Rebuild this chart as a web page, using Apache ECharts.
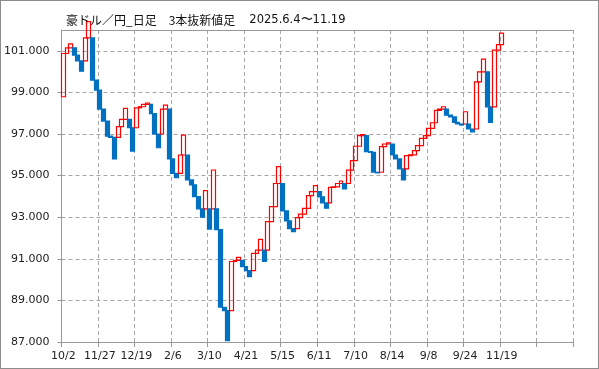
<!DOCTYPE html>
<html><head><meta charset="utf-8">
<script src="https://cdn.jsdelivr.net/npm/echarts@6/dist/echarts.min.js"></script>
<style>
html,body{margin:0;padding:0;background:#fff}
#c{width:599px;height:369px;box-sizing:border-box;border:1px solid #8c8c8c}
</style>
</head><body><div id="c"></div><script>
// ---- data ----
const titleMain = '豪ドル／円_日足　3本抜新値足';
const titleRange = '2025.6.4〜11.19';
const firstOpen = 98.79;
const closes = [
 100.87,101.14,101.33,100.79,100.52,100.02,101.62,102.40,99.59,99.11,
 98.20,97.62,96.90,96.84,95.80,97.35,97.70,98.23,97.30,96.18,
 98.26,98.31,98.42,98.49,97.98,97.00,96.34,98.20,98.39,95.80,
 95.11,94.90,95.99,96.95,94.79,94.55,93.99,93.40,93.00,94.28,
 92.43,95.27,92.40,88.67,88.51,87.07,90.87,90.92,91.07,90.62,
 90.43,90.14,91.26,91.42,91.93,90.87,92.79,93.51,94.62,95.43,
 93.30,92.82,92.45,92.31,92.98,93.15,93.42,94.04,94.23,94.52,
 93.98,93.69,93.43,94.43,94.46,94.62,94.74,94.36,95.26,95.72,
 96.41,96.92,96.97,96.15,96.12,95.16,95.13,96.39,96.52,96.58,
 95.99,95.80,95.32,94.79,95.96,96.00,96.20,96.44,96.79,96.92,
 97.27,97.54,98.14,98.20,98.31,97.91,97.82,97.56,97.48,97.43,
 98.07,97.24,97.10,99.51,99.99,100.60,98.30,97.56,101.03,101.30,
 101.85
];
const xTickLabels = ['10/2','11/27','12/19','2/6','3/10','4/21','5/15','6/11','7/10','8/14','9/8','9/24','11/19'];
const categoryCount = 140;
const labelEvery = 10;
const yMin = 87, yMax = 102, yStep = 2;

// ---- three-line-break bricks: new line continues from prior close, reversal from prior open ----
const bricks = [];
let prevOpen = firstOpen, prevClose = null, prevDir = 1;
closes.forEach((c, i) => {
  let open;
  if (i === 0) { open = firstOpen; prevDir = c > open ? 1 : -1; }
  else {
    const dir = c > prevClose ? 1 : -1;
    open = (dir === prevDir) ? prevClose : prevOpen;
    prevDir = dir;
  }
  bricks.push([open, c, Math.min(open, c), Math.max(open, c)]);
  prevOpen = open; prevClose = c;
});
const cats = Array.from({length: categoryCount}, (_, i) => String(i));

const gridColor = '#a6a6a6';
const chart = echarts.init(document.getElementById('c'), null, {renderer: 'canvas'});
chart.setOption({
  animation: false,
  backgroundColor: '#fff',
  title: {
    text: '{a|' + titleMain + '　}{b|' + titleRange + '}',
    left: 60, top: 8,
    textStyle: {
      fontWeight: 'normal',
      rich: {
        a: {fontSize: 12, fontWeight: 'normal', fontFamily: 'Noto Sans CJK JP', color: '#111'},
        b: {fontSize: 11.5, fontWeight: 'normal', fontFamily: 'DejaVu Sans', color: '#111', padding: [0, 0, 0, 2]}
      }
    }
  },
  grid: {left: 57, right: 25, top: 29, bottom: 26, containLabel: false},
  xAxis: [{
    type: 'category', data: cats, boundaryGap: true,
    axisLine: {show: true, lineStyle: {color: '#999', width: 1}},
    axisTick: {show: true, interval: labelEvery - 1, length: 5, lineStyle: {color: '#999'}},
    axisLabel: {
      interval: labelEvery - 1, margin: 9, color: '#222', fontSize: 11,
      fontFamily: 'DejaVu Sans',
      formatter: (v, idx) => (idx % labelEvery === 0 && xTickLabels[idx / labelEvery]) || ''
    },
    splitLine: {show: true, interval: labelEvery - 1, lineStyle: {color: gridColor, type: [4, 3], width: 1}}
  }, {
    type: 'category', data: cats, position: 'top', boundaryGap: true,
    axisLine: {show: true, lineStyle: {color: '#999', width: 1}},
    axisTick: {show: false}, axisLabel: {show: false}, splitLine: {show: false}
  }],
  yAxis: {
    type: 'value', min: yMin, max: yMax, interval: yStep,
    axisLine: {show: true, lineStyle: {color: '#999', width: 1}},
    axisTick: {show: true, length: 4, lineStyle: {color: '#999'}},
    axisLabel: {
      margin: 12, color: '#222', fontSize: 11, fontFamily: 'DejaVu Sans',
      showMaxLabel: false,
      formatter: v => v.toFixed(3)
    },
    splitLine: {show: true, lineStyle: {color: gridColor, type: [4, 3], width: 1}}
  },
  series: [{
    type: 'candlestick',
    data: bricks,
    barWidth: 4.4,
    clip: true,
    itemStyle: {
      color: 'rgba(255,255,255,0)', color0: '#0070C0',
      borderColor: '#FF0000', borderColor0: '#0070C0', borderWidth: 1.2
    },
    emphasis: {disabled: true}
  }]
});
</script></body></html>
